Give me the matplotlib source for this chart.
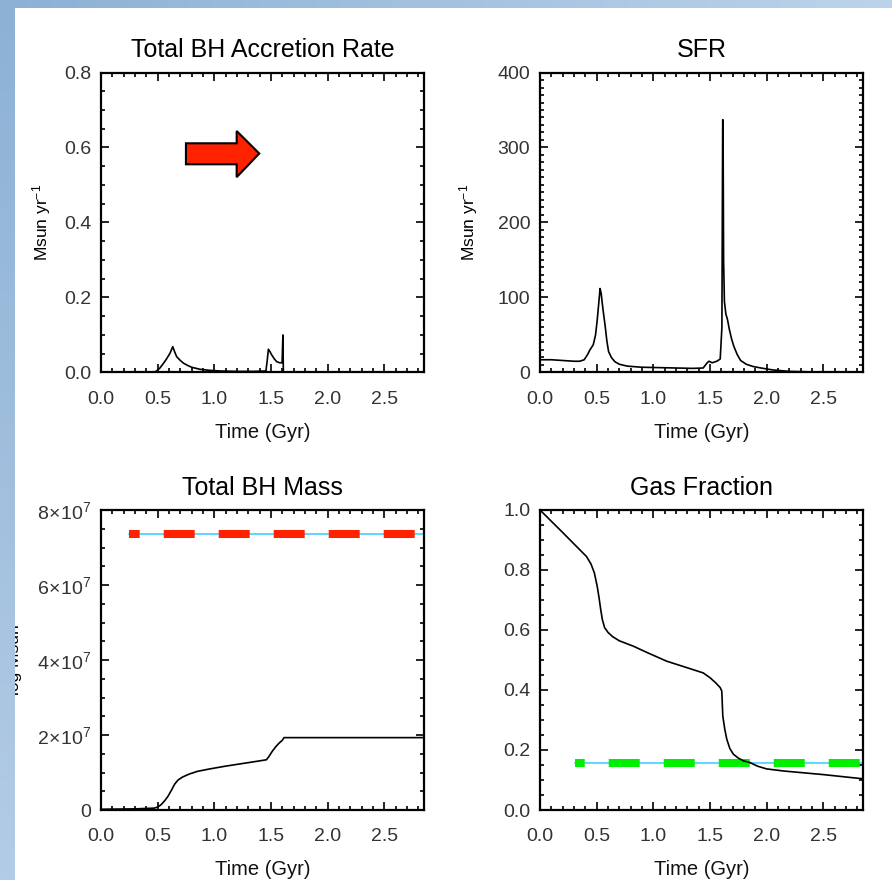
import numpy as np
import matplotlib
matplotlib.use("Agg")
import matplotlib.pyplot as plt
from matplotlib.ticker import MultipleLocator, FuncFormatter
from matplotlib.patches import Polygon
from matplotlib.colors import LinearSegmentedColormap

plt.rcParams['font.family'] = ['Liberation Sans', 'DejaVu Sans']
plt.rcParams['mathtext.fontset'] = 'custom'
plt.rcParams['mathtext.rm'] = 'Liberation Sans'
plt.rcParams['mathtext.it'] = 'Liberation Sans:italic'
plt.rcParams['lines.scale_dashes'] = False

# --- data (time in Gyr) ---
acc_t = [0.0, 0.46, 0.49, 0.52, 0.55, 0.58, 0.61, 0.633, 0.65, 0.668, 0.70, 0.727, 0.77, 0.80,
         0.874, 0.95, 1.05, 1.2, 1.35, 1.455, 1.466, 1.477, 1.49, 1.506, 1.53, 1.55, 1.575,
         1.598, 1.605, 1.609, 1.62, 2.85]
acc_rate = [0.0, 0.0, 0.004, 0.012, 0.024, 0.037, 0.052, 0.069, 0.055, 0.042, 0.032, 0.025,
            0.018, 0.014, 0.0085, 0.006, 0.004, 0.003, 0.003, 0.004, 0.030, 0.062, 0.056,
            0.047, 0.036, 0.029, 0.026, 0.026, 0.100, 0.0, 0.0, 0.0]

sfr_t = [0.0, 0.1, 0.2, 0.3, 0.35, 0.39, 0.42, 0.44, 0.47, 0.49, 0.505, 0.52, 0.53, 0.54,
         0.555, 0.575, 0.59, 0.605, 0.63, 0.66, 0.70, 0.77, 0.9, 1.05, 1.2, 1.35, 1.44, 1.47,
         1.49, 1.52, 1.56, 1.59, 1.605, 1.612, 1.615, 1.62, 1.627, 1.64, 1.65, 1.655, 1.67,
         1.69, 1.71, 1.74, 1.77, 1.82, 1.88, 1.95, 2.05, 2.2, 2.5, 2.85]
sfr = [17, 17, 16, 15, 15, 17, 24, 30, 37, 50, 70, 95, 112, 105,
       85, 62, 42, 28, 20, 14.5, 11, 8.5, 7, 6.5, 6, 5.5, 6, 12,
       15, 13, 15, 18, 60, 337, 337, 150, 95, 78, 73, 70, 58,
       45, 35, 24, 16, 11, 8, 6, 3.5, 1.5, 0.5, 0.5]

mass_t = [0.0, 0.3, 0.47, 0.5, 0.53, 0.56, 0.59, 0.62, 0.65, 0.68, 0.72, 0.78, 0.85, 0.95,
          1.1, 1.25, 1.4, 1.46, 1.48, 1.51, 1.54, 1.57, 1.60, 1.615, 2.85]
bh_mass = np.array([0.02, 0.03, 0.05, 0.08, 0.14, 0.24, 0.36, 0.52, 0.69, 0.80, 0.88, 0.96,
                    1.03, 1.09, 1.17, 1.24, 1.31, 1.34, 1.42, 1.56, 1.68, 1.78, 1.86, 1.93,
                    1.93]) * 1e7
mass_ref = 7.36e7
mass_ref_t = [0.25, 2.85]

gas_t = [0.0, 0.2, 0.41, 0.45, 0.48, 0.505, 0.52, 0.535, 0.55, 0.57, 0.60, 0.64, 0.7, 0.824,
         0.95, 1.118, 1.3, 1.44, 1.50, 1.55, 1.59, 1.604, 1.613, 1.63, 1.648, 1.675, 1.706,
         1.75, 1.794, 1.853, 1.92, 2.0, 2.15, 2.295, 2.5, 2.7, 2.85]
gas_frac = [1.0, 0.925, 0.845, 0.82, 0.79, 0.745, 0.71, 0.67, 0.635, 0.608, 0.592, 0.578,
            0.564, 0.546, 0.524, 0.496, 0.474, 0.457, 0.441, 0.424, 0.408, 0.396, 0.313,
            0.27, 0.236, 0.205, 0.186, 0.173, 0.164, 0.158, 0.146, 0.137, 0.13, 0.125,
            0.118, 0.110, 0.104]
gas_ref = 0.157
gas_ref_t = [0.31, 2.85]

x_ticks = [0.0, 0.5, 1.0, 1.5, 2.0, 2.5]

fig = plt.figure(figsize=(8.92, 8.8), dpi=100)
fig.patch.set_facecolor('white')

W, H = 892.0, 880.0
def box(l, t, w=323, h=300):
    return [l / W, 1 - (t + h) / H, w / W, h / H]

ax1 = fig.add_axes(box(101, 72.5))
ax2 = fig.add_axes(box(540, 72.5))
ax3 = fig.add_axes(box(101, 510))
ax4 = fig.add_axes(box(540, 510))

txt = '#333333'
for ax in (ax1, ax2, ax3, ax4):
    ax.set_xlim(0, 2.85)
    ax.set_xticks(x_ticks)
    ax.xaxis.set_minor_locator(MultipleLocator(0.1))
    ax.xaxis.set_major_formatter(FuncFormatter(lambda v, p: '%.1f' % v))
    ax.tick_params(which='both', direction='in', top=True, right=True, width=1.2,
                   labelcolor=txt, labelsize=14)
    ax.tick_params(which='major', length=6)
    ax.tick_params(which='minor', length=3)
    ax.tick_params(axis='x', pad=13)
    ax.tick_params(axis='y', pad=7)
    for s in ax.spines.values():
        s.set_linewidth(1.6)
    ax.set_xlabel('Time (Gyr)', fontsize=14.5, color='#111111', labelpad=11)

# accretion rate
ax1.plot(acc_t, acc_rate, color='black', lw=1.2)
ax1.set_ylim(0, 0.8)
ax1.set_yticks([0.0, 0.2, 0.4, 0.6, 0.8])
ax1.yaxis.set_minor_locator(MultipleLocator(0.05))
ax1.yaxis.set_major_formatter(FuncFormatter(lambda v, p: '%.1f' % v))
ax1.set_title('Total BH Accretion Rate', fontsize=18, pad=11)
ax1.set_ylabel('Msun yr$^{-1}$', fontsize=12.5)
ax1.yaxis.set_label_coords(-0.15, 0.5)
arrow = Polygon([(0.263, 0.764), (0.420, 0.764), (0.420, 0.805), (0.490, 0.73),
                 (0.420, 0.651), (0.420, 0.694), (0.263, 0.694)],
                closed=True, transform=ax1.transAxes, facecolor='#ff2200',
                edgecolor='black', lw=1.5, zorder=5)
ax1.add_patch(arrow)

# SFR
ax2.plot(sfr_t, sfr, color='black', lw=1.2)
ax2.set_ylim(0, 400)
ax2.set_yticks([0, 100, 200, 300, 400])
ax2.yaxis.set_minor_locator(MultipleLocator(10))
ax2.set_title('SFR', fontsize=18, pad=11)
ax2.set_ylabel('Msun yr$^{-1}$', fontsize=12.5)
ax2.yaxis.set_label_coords(-0.185, 0.5)

# BH mass
ax3.plot(mass_ref_t, [mass_ref, mass_ref], color='#33ccff', lw=1.1, zorder=2)
ax3.plot(mass_ref_t, [mass_ref, mass_ref], color='#ff2200', lw=5.8,
         linestyle=(14.6, (22.3, 17.3)), solid_capstyle='butt', dash_capstyle='butt', zorder=3)
ax3.plot(mass_t, bh_mass, color='black', lw=1.2, zorder=4)
ax3.set_ylim(0, 8e7)
ax3.set_yticks([0, 2e7, 4e7, 6e7, 8e7])
ax3.yaxis.set_minor_locator(MultipleLocator(0.5e7))
ax3.yaxis.set_major_formatter(FuncFormatter(
    lambda v, p: '0' if v == 0 else r'$%d\!\times\!10^{7}$' % round(v / 1e7)))
ax3.set_title('Total BH Mass', fontsize=18, pad=11)
ax3.set_ylabel('log Msun', fontsize=12.5)
ax3.yaxis.set_label_coords(-0.245, 0.5)

# gas fraction
ax4.plot(gas_ref_t, [gas_ref, gas_ref], color='#33ccff', lw=1.1, zorder=2)
ax4.plot(gas_ref_t, [gas_ref, gas_ref], color='#00ee00', lw=5.8,
         linestyle=(15.3, (22.3, 17.3)), solid_capstyle='butt', dash_capstyle='butt', zorder=3)
ax4.plot(gas_t, gas_frac, color='black', lw=1.2, zorder=4)
ax4.set_ylim(0, 1.0)
ax4.set_yticks([0.0, 0.2, 0.4, 0.6, 0.8, 1.0])
ax4.yaxis.set_minor_locator(MultipleLocator(0.05))
ax4.yaxis.set_major_formatter(FuncFormatter(lambda v, p: '%.1f' % v))
ax4.set_title('Gas Fraction', fontsize=18, pad=11)

# slide border (blue gradient strips on the left and top)
cm_left = LinearSegmentedColormap.from_list('l', ['#8cb1d5', '#b3cce5'])
cm_top = LinearSegmentedColormap.from_list('t', ['#8cb1d5', '#bcd3ea'])
bl = fig.add_axes([0, 0, 15 / W, 1], zorder=10)
bl.imshow(np.linspace(0, 1, 256).reshape(-1, 1), cmap=cm_left, aspect='auto')
bl.axis('off')
bt = fig.add_axes([0, 1 - 8 / H, 1, 8 / H], zorder=10)
bt.imshow(np.linspace(0, 1, 256).reshape(1, -1), cmap=cm_top, aspect='auto')
bt.axis('off')

fig.savefig('out.png', dpi=100, facecolor='white')
